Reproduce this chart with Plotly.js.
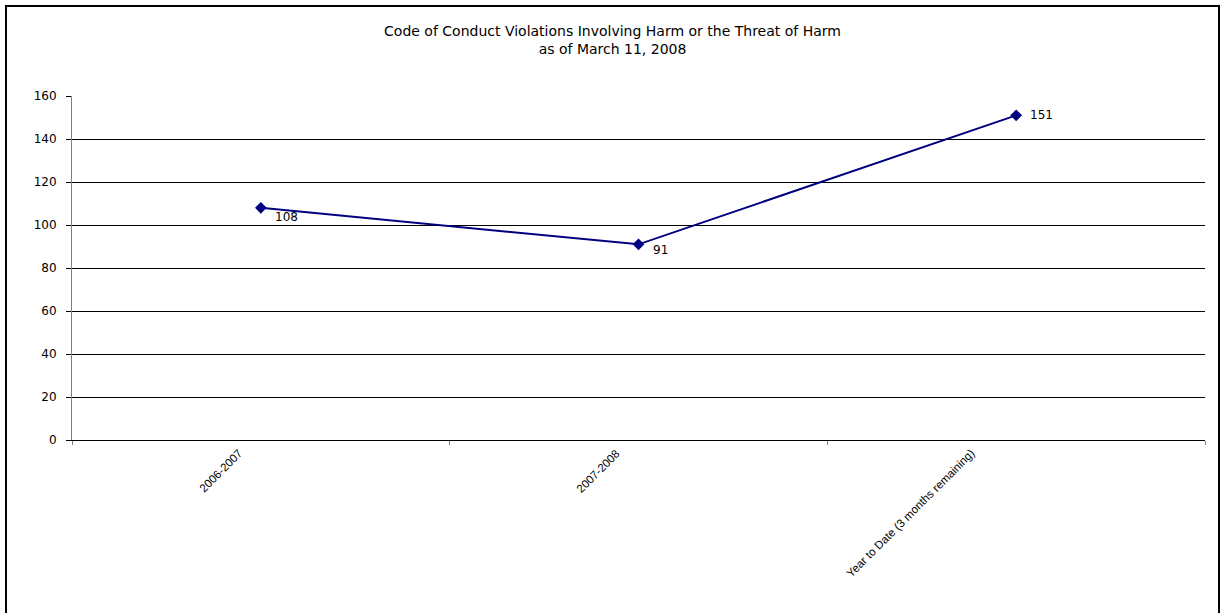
<!DOCTYPE html>
<html>
<head>
<meta charset="utf-8">
<script src="https://cdn.plot.ly/plotly-3.0.1.min.js"></script>
<style>
html, body { margin: 0; padding: 0; width: 1220px; height: 613px; overflow: hidden; background: #fff; }
#frame { position: absolute; left: 5px; top: 5px; width: 1211px; height: 620px; border: 2px solid #000; overflow: hidden; }
#chart { width: 1211px; height: 620px; }
</style>
</head>
<body>
<div id="frame"><div id="chart"></div></div>
<script>
const categories = ["2006-2007", "2007-2008", "Year to Date (3 months remaining)"];
const violations = [108, 91, 151];
const titleText = "Code of Conduct Violations Involving Harm or the Threat of Harm<br>as of March 11, 2008";

// label placement style (offsets in pixels, not data)
const labelYShift = [-9, -6, 0];
const categoryXShift = [-14, -14, -36];

const arial = "Arial, 'Liberation Sans', sans-serif";
const wide = "'DejaVu Sans', Arial, sans-serif";

const trace = {
  x: categories,
  y: violations,
  type: "scatter",
  mode: "lines+markers",
  line: { color: "#000080", width: 2 },
  marker: { symbol: "diamond", size: 9, color: "#000080" },
  hoverinfo: "x+y",
  cliponaxis: false
};

const valueLabels = categories.map((c, i) => ({
  x: c, y: violations[i], xref: "x", yref: "y",
  text: String(violations[i]), showarrow: false,
  xanchor: "left", yanchor: "middle",
  xshift: 12, yshift: labelYShift[i],
  font: { family: wide, size: 12, color: "#000" }
}));

const categoryLabels = categories.map((c, i) => ({
  x: c, y: 0, xref: "x", yref: "paper",
  text: c, showarrow: false, textangle: -45,
  xanchor: "right", yanchor: "top",
  xshift: categoryXShift[i], yshift: -4,
  font: { family: arial, size: 11.5, color: "#000" }
}));

const layout = {
  width: 1211,
  height: 620,
  margin: { l: 65, r: 13, t: 89, b: 187 },
  paper_bgcolor: "#fff",
  plot_bgcolor: "#fff",
  showlegend: false,
  font: { family: wide, size: 12, color: "#000" },
  title: {
    text: titleText,
    font: { family: wide, size: 14, color: "#000" },
    xref: "container", x: 0.5, xanchor: "center",
    yref: "container", y: 1 - 29/620, yanchor: "top"
  },
  annotations: valueLabels.concat(categoryLabels),
  xaxis: {
    type: "category",
    range: [-0.5, 2.5],
    ticks: "outside",
    tickson: "boundaries",
    ticklen: 4,
    tickcolor: "#808080",
    showticklabels: false,
    showline: true,
    linecolor: "#000",
    linewidth: 1,
    showgrid: false,
    zeroline: false,
    automargin: false
  },
  yaxis: {
    range: [0, 160],
    dtick: 20,
    tick0: 0,
    ticks: "outside",
    ticklen: 5,
    tickcolor: "#000",
    ticklabelstandoff: 7,
    showline: true,
    linecolor: "#808080",
    linewidth: 1,
    showgrid: true,
    gridcolor: "#000",
    gridwidth: 1,
    zeroline: false,
    tickfont: { family: wide, size: 12, color: "#000" },
    automargin: false
  }
};

Plotly.newPlot("chart", [trace], layout, { displayModeBar: false, staticPlot: true });
</script>
</body>
</html>
